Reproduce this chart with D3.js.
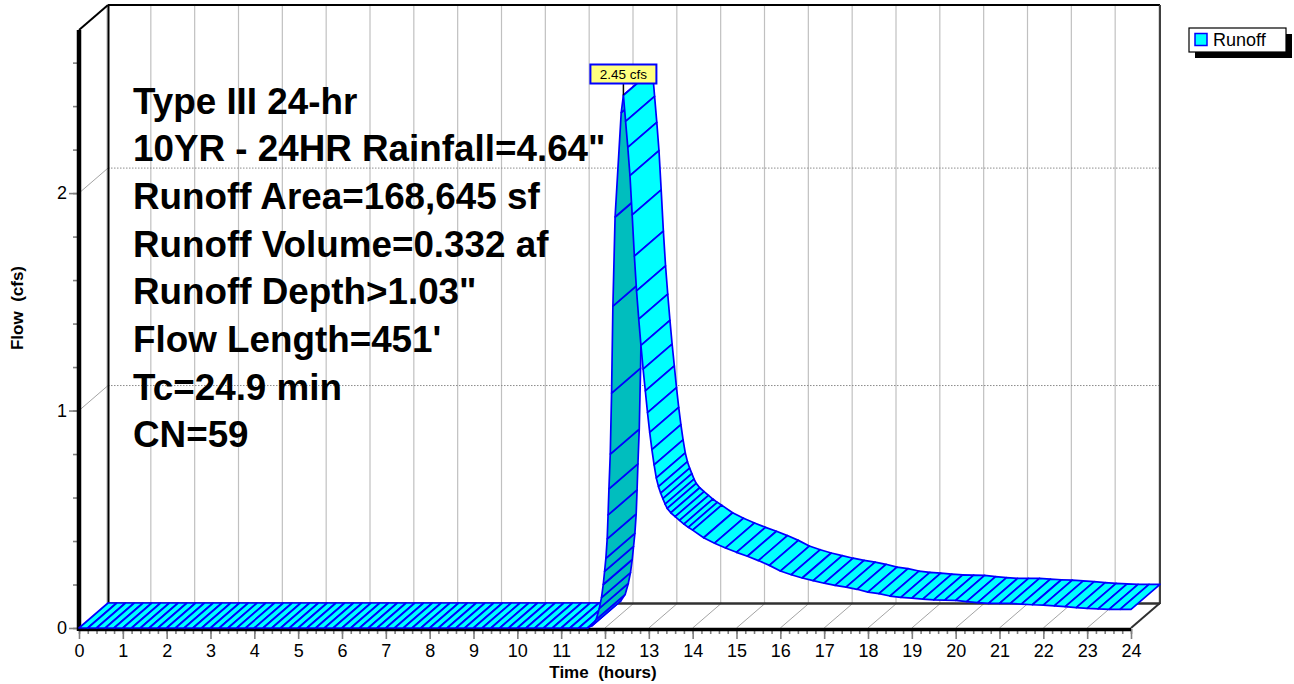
<!DOCTYPE html>
<html>
<head>
<meta charset="utf-8">
<script src="https://cdn.jsdelivr.net/npm/d3@7"></script>
<style>
  body { margin: 0; background: #ffffff; }
  svg { display: block; font-family: Arial, "Liberation Sans", sans-serif; }
</style>
</head>
<body>
<svg id="chart" width="1294" height="684"></svg>
<script>
// ---- Runoff hydrograph (hours, cfs) ----
const hours = [
  0, 0.2, 0.4, 0.6, 0.8, 1, 1.2, 1.4, 1.6, 1.8, 2, 2.2, 2.4, 2.6, 2.8, 3, 3.2, 3.4, 3.6, 3.8,
  4, 4.2, 4.4, 4.6, 4.8, 5, 5.2, 5.4, 5.6, 5.8, 6, 6.2, 6.4, 6.6, 6.8, 7, 7.2, 7.4, 7.6, 7.8,
  8, 8.2, 8.4, 8.6, 8.8, 9, 9.2, 9.4, 9.6, 9.8, 10, 10.2, 10.4, 10.6, 10.8, 11, 11.2, 11.4, 11.6,
  11.70, 11.80, 11.87, 11.92, 11.96, 11.99, 12.02, 12.05, 12.07, 12.09, 12.12, 12.15, 12.18, 12.23, 12.37, 12.42,
  12.47, 12.52, 12.57, 12.62, 12.67, 12.72, 12.77, 12.82, 12.87, 12.92, 12.97, 13.02, 13.07, 13.12, 13.17, 13.22,
  13.27, 13.32, 13.37, 13.42, 13.5, 13.6, 13.7, 13.8, 13.9,
  14, 14.25, 14.5, 14.75, 15, 15.25, 15.5, 15.75, 16, 16.25, 16.5, 16.75, 17, 17.25, 17.5, 17.75,
  18, 18.25, 18.5, 18.75, 19, 19.25, 19.5, 19.75, 20, 20.25, 20.5, 20.75, 21, 21.25, 21.5, 21.75,
  22, 22.25, 22.5, 22.75, 23, 23.25, 23.5, 23.75, 24
];
const flowCfs = [
  0, 0, 0, 0, 0, 0, 0, 0, 0, 0, 0, 0, 0, 0, 0, 0, 0, 0, 0, 0,
  0, 0, 0, 0, 0, 0, 0, 0, 0, 0, 0, 0, 0, 0, 0, 0, 0, 0, 0, 0,
  0, 0, 0, 0, 0, 0, 0, 0, 0, 0, 0, 0, 0, 0, 0, 0, 0, 0, 0,
  0.01, 0.04, 0.09, 0.14, 0.20, 0.26, 0.32, 0.41, 0.52, 0.64, 0.80, 1.08, 1.48, 1.89, 2.37, 2.45,
  2.33, 2.21, 2.08, 1.90, 1.71, 1.55, 1.42, 1.30, 1.19, 1.09, 0.99, 0.90, 0.82, 0.75, 0.69, 0.65,
  0.62, 0.595, 0.57, 0.55, 0.53, 0.512, 0.495, 0.478, 0.463,
  0.450, 0.415, 0.390, 0.368, 0.348, 0.330, 0.310, 0.288, 0.262, 0.245, 0.230, 0.218, 0.206, 0.196, 0.188, 0.178,
  0.165, 0.158, 0.147, 0.141, 0.137, 0.133, 0.129, 0.128, 0.127, 0.121, 0.117, 0.113, 0.113, 0.113, 0.110, 0.107,
  0.105, 0.102, 0.098, 0.094, 0.090, 0.088, 0.086, 0.086, 0.086
];

const xTickLabels = [0, 1, 2, 3, 4, 5, 6, 7, 8, 9, 10, 11, 12, 13, 14, 15, 16, 17, 18, 19, 20, 21, 22, 23, 24];
const yTickLabels = [0, 1, 2];
const seriesName = "Runoff";
const flowUnit = "cfs";
const summaryLines = [
  "Type III 24-hr",
  "10YR - 24HR Rainfall=4.64\"",
  "Runoff Area=168,645 sf",
  "Runoff Volume=0.332 af",
  "Runoff Depth>1.03\"",
  "Flow Length=451'",
  "Tc=24.9 min",
  "CN=59"
];

// ---- layout ----
const plot = { left: 79, right: 1131, bottom: 628, top: 30 };
const depth = { x: 29, y: -25 };   // offset of the back plane
const colors = {
  top: "#00ffff", under: "#00bebe", edge: "#0000ff",
  grid: "#c0c0c0", tick: "#808080", frame: "#000000"
};

const x = d3.scaleLinear().domain([0, 24]).range([plot.left, plot.right]);
const y = d3.scaleLinear().domain([0, 2.75]).range([plot.bottom, plot.top]);

const svg = d3.select("#chart");
const backX = v => x(v) + depth.x;
const backY = v => y(v) + depth.y;

// ---- back wall grid ----
const grid = svg.append("g");
grid.selectAll("line.vgrid").data(xTickLabels).join("line")
  .attr("class", "vgrid")
  .attr("x1", d => backX(d) - 1).attr("x2", d => backX(d) - 1)
  .attr("y1", backY(0)).attr("y2", backY(2.75))
  .attr("stroke", colors.grid).attr("stroke-width", 1.2);

grid.selectAll("line.hgrid").data(yTickLabels.filter(d => d > 0)).join("line")
  .attr("class", "hgrid")
  .attr("x1", backX(0)).attr("x2", backX(24))
  .attr("y1", d => backY(d)).attr("y2", d => backY(d))
  .attr("stroke", "#8c8c8c").attr("stroke-width", 1).attr("stroke-dasharray", "1.5,1.5");

// left wall connectors for the gridlines
grid.selectAll("line.ldiag").data(yTickLabels.filter(d => d > 0)).join("line")
  .attr("class", "ldiag")
  .attr("x1", x(0)).attr("x2", backX(0))
  .attr("y1", d => y(d)).attr("y2", d => backY(d))
  .attr("stroke", "#999").attr("stroke-width", 0.9);

// floor connectors
grid.selectAll("line.fdiag").data(xTickLabels.filter(d => d > 0 && d < 24)).join("line")
  .attr("class", "fdiag")
  .attr("x1", d => x(d)).attr("x2", d => backX(d))
  .attr("y1", y(0)).attr("y2", backY(0))
  .attr("stroke", "#999").attr("stroke-width", 0.9);

// ---- frame ----
const frame = svg.append("g").attr("fill", "none");
frame.append("line")   // back wall left edge
  .attr("x1", backX(0) + 0.5).attr("x2", backX(0) + 0.5)
  .attr("y1", backY(0)).attr("y2", backY(2.75))
  .attr("stroke", colors.frame).attr("stroke-width", 2);
frame.append("line")   // top edge
  .attr("x1", backX(0)).attr("x2", backX(24))
  .attr("y1", backY(2.75)).attr("y2", backY(2.75))
  .attr("stroke", colors.frame).attr("stroke-width", 2);
frame.append("line")   // left top diagonal
  .attr("x1", x(0)).attr("x2", backX(0))
  .attr("y1", y(2.75)).attr("y2", backY(2.75))
  .attr("stroke", colors.frame).attr("stroke-width", 2);
frame.append("line")   // right back edge
  .attr("x1", backX(24)).attr("x2", backX(24))
  .attr("y1", backY(0) + 1).attr("y2", backY(2.75))
  .attr("stroke", "#404040").attr("stroke-width", 2);
frame.append("line")   // back floor edge
  .attr("x1", backX(0)).attr("x2", backX(24))
  .attr("y1", backY(0) + 0.5).attr("y2", backY(0) + 0.5)
  .attr("stroke", "#303030").attr("stroke-width", 2.5);
frame.append("line")   // right floor edge
  .attr("x1", x(24)).attr("x2", backX(24))
  .attr("y1", y(0)).attr("y2", backY(0))
  .attr("stroke", "#303030").attr("stroke-width", 2);

// ---- axes ----
const xMinor = d3.axisBottom(x).tickValues(d3.range(0, 24.01, 0.2)).tickSize(5).tickFormat("");
const xMajor = d3.axisBottom(x).tickValues(xTickLabels).tickSize(10).tickPadding(5).tickFormat(d3.format("d"));
const yMinor = d3.axisLeft(y).tickValues(d3.range(0, 2.75, 0.2)).tickSize(6).tickFormat("");
const yMajor = d3.axisLeft(y).tickValues(yTickLabels).tickSize(10).tickPadding(2).tickFormat(d3.format("d"));

function styleAxis(g) {
  g.select(".domain").remove();
  g.selectAll(".tick line").attr("stroke", colors.tick).attr("stroke-width", 1.6);
  g.selectAll(".tick text").attr("fill", "#000").attr("font-size", 18)
    .attr("font-family", "Arial, 'Liberation Sans', sans-serif");
}
svg.append("g").attr("transform", `translate(0,${plot.bottom + 1})`).call(xMinor).call(styleAxis);
svg.append("g").attr("transform", `translate(0,${plot.bottom + 1})`).call(xMajor).call(styleAxis);
svg.append("g").attr("transform", `translate(${plot.left},0)`).call(yMinor).call(styleAxis);
svg.append("g").attr("transform", `translate(${plot.left},0)`).call(yMajor).call(styleAxis);

// front axis lines
svg.append("line")
  .attr("x1", x(0)).attr("x2", x(24))
  .attr("y1", y(0) + 1.5).attr("y2", y(0) + 1.5)
  .attr("stroke", colors.frame).attr("stroke-width", 3.5);
svg.append("line")
  .attr("x1", x(0)).attr("x2", x(0))
  .attr("y1", y(0) + 3).attr("y2", y(2.75))
  .attr("stroke", colors.frame).attr("stroke-width", 4.5);

// ---- hydrograph ribbon ----
const pts = hours.map((h, i) => [x(h), y(flowCfs[i])]);
const quads = [];
for (let i = 0; i < pts.length - 1; i++) {
  const a = pts[i], b = pts[i + 1];
  const vx = b[0] - a[0], vy = b[1] - a[1];
  const facing = vx * depth.y - vy * depth.x;   // > 0 : underside is toward the viewer
  quads.push({
    poly: [a, b, [b[0] + depth.x, b[1] + depth.y], [a[0] + depth.x, a[1] + depth.y]],
    fill: facing > 0 ? colors.under : colors.top
  });
}
svg.append("g").selectAll("polygon").data(quads).join("polygon")
  .attr("points", d => d.poly.map(p => p.join(",")).join(" "))
  .attr("fill", d => d.fill)
  .attr("stroke", colors.edge)
  .attr("stroke-width", 1.7)
  .attr("stroke-linejoin", "round");

// ---- peak label ----
const peakIdx = d3.maxIndex(flowCfs);
const peakX = x(hours[peakIdx]), peakY = y(flowCfs[peakIdx]);
const peakText = `${d3.format(".2f")(flowCfs[peakIdx])} ${flowUnit}`;
const boxW = 66, boxH = 19, boxTop = 64.5;
svg.append("line")
  .attr("x1", peakX).attr("x2", peakX)
  .attr("y1", boxTop + boxH).attr("y2", peakY)
  .attr("stroke", "#000").attr("stroke-width", 1.5);
svg.append("rect")
  .attr("x", peakX - boxW / 2).attr("y", boxTop)
  .attr("width", boxW).attr("height", boxH)
  .attr("fill", "#ffff80").attr("stroke", colors.edge).attr("stroke-width", 2);
svg.append("text")
  .attr("x", peakX).attr("y", boxTop + 14.5)
  .attr("text-anchor", "middle").attr("font-size", 13.5).attr("fill", "#000")
  .text(peakText);

// ---- summary block ----
svg.append("g").selectAll("text").data(summaryLines).join("text")
  .attr("x", 133)
  .attr("y", (d, i) => 113.5 + i * 47.7)
  .attr("font-size", 36.8).attr("font-weight", "bold").attr("fill", "#000")
  .text(d => d);

// ---- axis titles ----
svg.append("text")
  .attr("x", 603).attr("y", 678)
  .attr("text-anchor", "middle").attr("font-size", 17).attr("font-weight", "bold")
  .attr("xml:space", "preserve").text("Time  (hours)");
svg.append("text")
  .attr("transform", `translate(23,308) rotate(-90)`)
  .attr("text-anchor", "middle").attr("font-size", 17).attr("font-weight", "bold")
  .attr("xml:space", "preserve").text("Flow  (cfs)");

// ---- legend ----
const legend = svg.append("g").attr("transform", "translate(1189,28)");
legend.append("rect").attr("x", 6).attr("y", 6).attr("width", 97).attr("height", 24).attr("fill", "#000");
legend.append("rect").attr("x", 0).attr("y", 0).attr("width", 97).attr("height", 24)
  .attr("fill", "#fff").attr("stroke", "#000").attr("stroke-width", 1.2);
legend.append("rect").attr("x", 6).attr("y", 5.5).attr("width", 12).attr("height", 12)
  .attr("fill", colors.top).attr("stroke", colors.edge).attr("stroke-width", 1.5);
legend.append("text").attr("x", 24).attr("y", 18).attr("font-size", 18).attr("fill", "#000").text(seriesName);
</script>
</body>
</html>
